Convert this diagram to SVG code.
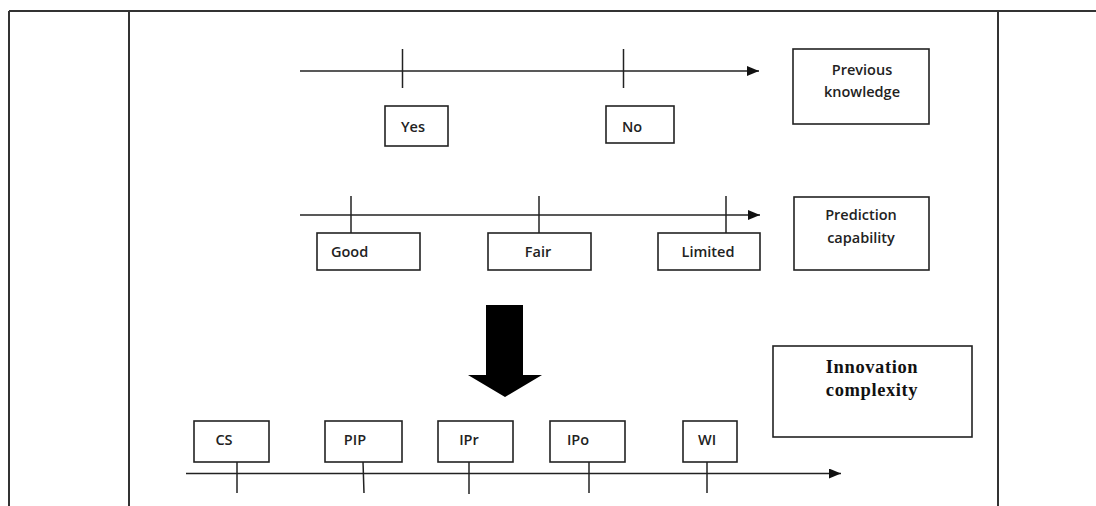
<svg xmlns="http://www.w3.org/2000/svg" width="1096" height="506" viewBox="0 0 1096 506">
<style>
.frame{stroke:#333;stroke-width:2;fill:none}
.box{fill:#fff;stroke:#222;stroke-width:1.6}
.ln{stroke:#222;stroke-width:1.5;fill:none}
.lbl{font-family:"Open Sans","Liberation Sans",sans-serif;font-size:14.5px;font-weight:600;fill:#222}
.big{font-family:"Liberation Serif",serif;font-size:18.5px;font-weight:bold;fill:#111;letter-spacing:0.6px}
</style>
<defs>
<marker id="ah" markerWidth="12" markerHeight="10" refX="12" refY="5" orient="auto" markerUnits="userSpaceOnUse">
<path d="M0,0 L12,5 L0,10 Z" fill="#111"/>
</marker>
</defs>
<rect width="1096" height="506" fill="#fff"/>
<g id="frame">
<line class="frame" x1="9" y1="11" x2="1096" y2="11"/>
<line class="frame" x1="9" y1="11" x2="9" y2="506" stroke="#666"/>
<line class="frame" x1="129" y1="11" x2="129" y2="506"/>
<line class="frame" x1="998" y1="11" x2="998" y2="506"/>
</g>
<g id="connectors">
<line class="ln" x1="300" y1="71" x2="759" y2="71" marker-end="url(#ah)"/>
<line class="ln" x1="402.5" y1="49" x2="402.5" y2="88"/>
<line class="ln" x1="623.5" y1="49" x2="623.5" y2="88"/>
<line class="ln" x1="300" y1="215" x2="760" y2="215" marker-end="url(#ah)"/>
<line class="ln" x1="351" y1="196" x2="351" y2="233"/>
<line class="ln" x1="539" y1="196" x2="539" y2="233"/>
<line class="ln" x1="726" y1="196" x2="726" y2="233"/>
<line class="ln" x1="186" y1="473.5" x2="841" y2="473.5" marker-end="url(#ah)"/>
<line class="ln" x1="237" y1="462" x2="237" y2="493"/>
<line class="ln" x1="363" y1="462" x2="364" y2="493"/>
<line class="ln" x1="469" y1="462" x2="469" y2="494"/>
<line class="ln" x1="589" y1="462" x2="589" y2="493"/>
<line class="ln" x1="707" y1="462" x2="707" y2="493"/>
<path id="bigArrow" d="M486,305 L523,305 L523,375 L542,375 L505,397 L468,375 L486,375 Z" fill="#000"/>
</g>
<g id="yes"><rect class="box" x="385" y="106" width="63" height="40"/><text class="lbl" x="413" y="132" text-anchor="middle">Yes</text></g>
<g id="no"><rect class="box" x="606" y="106" width="68" height="37"/><text class="lbl" x="632" y="132" text-anchor="middle">No</text></g>
<g id="prev"><rect class="box" x="793" y="49" width="136" height="75"/><text class="lbl" x="862" y="75" text-anchor="middle">Previous</text><text class="lbl" x="862" y="97" text-anchor="middle">knowledge</text></g>
<g id="good"><rect class="box" x="317" y="233" width="103" height="37"/><text class="lbl" x="331" y="257">Good</text></g>
<g id="fair"><rect class="box" x="488" y="233" width="103" height="37"/><text class="lbl" x="538" y="257" text-anchor="middle">Fair</text></g>
<g id="limited"><rect class="box" x="658" y="233" width="102" height="37"/><text class="lbl" x="708" y="257" text-anchor="middle">Limited</text></g>
<g id="pred"><rect class="box" x="794" y="197" width="135" height="73"/><text class="lbl" x="861" y="220" text-anchor="middle">Prediction</text><text class="lbl" x="861" y="243" text-anchor="middle">capability</text></g>
<g id="innov"><rect class="box" x="773" y="346" width="199" height="91"/><text class="big" x="872" y="373" text-anchor="middle">Innovation</text><text class="big" x="872" y="396" text-anchor="middle">complexity</text></g>
<g id="cs"><rect class="box" x="194" y="421" width="75" height="41"/><text class="lbl" x="224" y="445" text-anchor="middle">CS</text></g>
<g id="pip"><rect class="box" x="325" y="421" width="77" height="41"/><text class="lbl" x="355" y="445" text-anchor="middle">PIP</text></g>
<g id="ipr"><rect class="box" x="438" y="421" width="75" height="41"/><text class="lbl" x="469" y="445" text-anchor="middle">IPr</text></g>
<g id="ipo"><rect class="box" x="550" y="421" width="75" height="41"/><text class="lbl" x="578" y="445" text-anchor="middle">IPo</text></g>
<g id="wi"><rect class="box" x="683" y="421" width="54" height="41"/><text class="lbl" x="707" y="445" text-anchor="middle">WI</text></g>
</svg>
